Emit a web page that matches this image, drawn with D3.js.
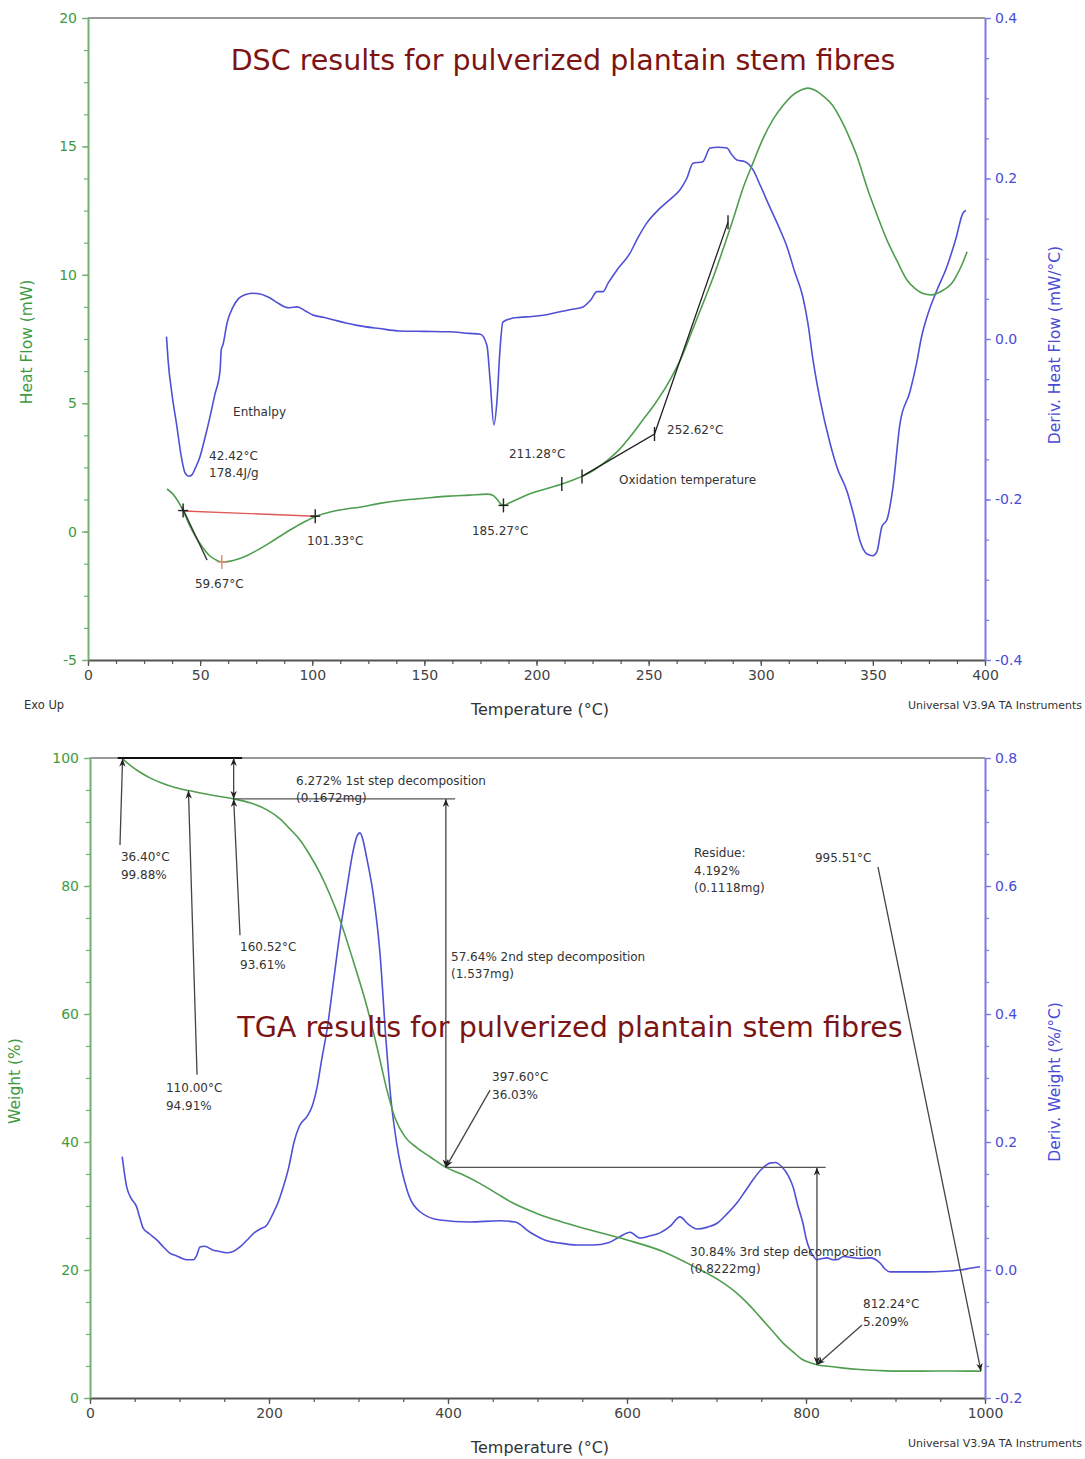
<!DOCTYPE html>
<html>
<head>
<meta charset="utf-8">
<script src="https://cdn.jsdelivr.net/npm/d3@7"></script>
<style>
body{margin:0;background:#fff}
text{font-family:"DejaVu Sans",sans-serif}
</style>
</head>
<body>
<svg id="fig" width="1085" height="1459"></svg>
<script>
// ---- DSC data: [temperature °C, value]
const dscHeatFlow=[[35.2,1.66],[38,1.45],[40,1.2],[42.42,0.82],[45,0.3],[48,-0.2],[51,-0.6],[54,-0.92],[57,-1.1],[59.67,-1.18],[63,-1.16],[67,-1.07],[71,-0.93],[76,-0.7],[81,-0.44],[86,-0.16],[92,0.16],[97,0.4],[101.33,0.58],[108,0.76],[115,0.88],[121,0.95],[130,1.1],[140,1.22],[150,1.3],[161,1.38],[170,1.42],[178,1.46],[180.5,1.42],[182.5,1.25],[184,1.08],[185.27,1.02],[188,1.12],[193,1.32],[198,1.5],[204,1.66],[211.28,1.85],[216,2.0],[220.3,2.15],[226,2.42],[232,2.8],[237,3.2],[242,3.72],[247,4.3],[253,5.0],[259.5,5.9],[265,6.85],[270,7.95],[275,9.05],[279,9.95],[284,11.2],[288,12.25],[292,13.35],[296.5,14.35],[301,15.3],[305.5,16.05],[310,16.6],[314,16.98],[318,17.2],[321,17.27],[324,17.2],[328,16.95],[332,16.6],[336,16.0],[339,15.45],[343,14.6],[347.4,13.4],[352,12.3],[356.3,11.35],[361,10.5],[365.2,9.8],[369,9.45],[372.4,9.27],[376,9.22],[381.3,9.4],[385,9.65],[387.5,10.0],[390,10.45],[392,10.9]];

const dscDeriv=[[35.0,0.003],[35.7,-0.026],[37.5,-0.07],[39.7,-0.11],[41.5,-0.145],[43.3,-0.167],[45,-0.171],[46.4,-0.169],[48,-0.16],[49.9,-0.147],[52,-0.125],[54.4,-0.097],[56.5,-0.07],[58.9,-0.039],[59.4,-0.014],[60.3,-0.006],[62,0.02],[64.7,0.04],[67,0.05],[70,0.055],[73,0.057],[76.7,0.056],[79,0.054],[81.2,0.051],[84,0.046],[87.8,0.04],[90,0.039],[93.2,0.04],[97,0.035],[100.3,0.03],[105,0.027],[109.3,0.024],[115,0.02],[120,0.017],[130,0.013],[139,0.01],[150,0.0095],[161,0.009],[170,0.007],[175,0.006],[177.9,-0.008],[179.3,-0.051],[181,-0.107],[182.4,-0.076],[183.7,-0.014],[185,0.021],[188,0.025],[192.6,0.027],[198,0.028],[203.8,0.03],[210.5,0.034],[216,0.037],[220.7,0.04],[224,0.048],[227,0.059],[229.7,0.059],[232,0.07],[235.9,0.086],[241.7,0.107],[245,0.125],[249.3,0.145],[255.1,0.163],[260,0.175],[264,0.186],[267,0.2],[269.8,0.219],[274.2,0.221],[277.4,0.238],[281,0.239],[284.9,0.238],[287,0.23],[289.4,0.223],[293,0.221],[296.5,0.211],[300,0.19],[304.1,0.164],[308,0.14],[311.7,0.115],[315,0.085],[318.8,0.052],[321,0.02],[323.3,-0.026],[326.4,-0.075],[330.9,-0.13],[334,-0.16],[338.5,-0.19],[341.5,-0.22],[344.3,-0.252],[347.4,-0.268],[350,-0.27],[351.8,-0.265],[354,-0.234],[356.3,-0.225],[359,-0.184],[362.1,-0.105],[366.5,-0.066],[369.5,-0.03],[371.5,0.0],[375,0.035],[378.6,0.061],[383,0.09],[387,0.125],[390.2,0.157],[391.5,0.16]];

// ---- TGA data
const tgaWeight=[[36.4,99.88],[45,98.85],[55,97.85],[67,96.9],[80,96.1],[95,95.4],[110,94.91],[125,94.5],[140,94.1],[160.52,93.61],[178.8,93.0],[197.8,91.9],[212.3,90.5],[223.5,88.9],[234.6,87.2],[245.8,84.8],[257,82.0],[268.2,78.6],[279.3,74.7],[293.9,68.4],[309.5,61.1],[320.7,54.8],[331.8,48.1],[340.8,43.75],[352,40.8],[365.4,39.1],[379.9,37.7],[397.6,36.03],[415,35],[436,33.5],[455,31.9],[472,30.5],[500,28.8],[525,27.6],[560,26.2],[600,24.7],[640,22.9],[674,20.6],[704,18.3],[720,16.7],[734,14.9],[749,12.6],[763,10.4],[775,8.5],[785.5,7.2],[795,6.1],[805,5.5],[812.24,5.209],[825,4.95],[840,4.7],[860,4.45],[880,4.3],[900,4.2],[930,4.2],[960,4.22],[980,4.2],[995.5,4.192]];

const tgaDeriv=[[36,0.177],[41,0.13],[46,0.112],[52,0.099],[56,0.08],[59.6,0.065],[66,0.057],[74.6,0.047],[82,0.036],[89.4,0.026],[97,0.022],[103,0.018],[108,0.016],[115.5,0.016],[119,0.022],[122.9,0.036],[128,0.037],[137.7,0.031],[145,0.029],[152.6,0.027],[160,0.029],[167.6,0.036],[175,0.046],[182.5,0.057],[190,0.064],[197.4,0.07],[204.8,0.089],[210,0.105],[216,0.13],[222,0.16],[228,0.2],[234,0.225],[242.5,0.24],[248,0.255],[253.6,0.285],[259,0.33],[264.8,0.375],[271.5,0.445],[279.3,0.527],[287.2,0.598],[294,0.655],[299,0.68],[301.7,0.683],[305,0.672],[309,0.645],[316.2,0.59],[324,0.495],[330.7,0.359],[336.3,0.266],[343,0.195],[354.2,0.125],[368.7,0.091],[391,0.078],[424,0.075],[458,0.077],[475,0.075],[491.6,0.059],[508,0.047],[525,0.042],[545,0.039],[562,0.039],[580,0.043],[592,0.052],[603.4,0.059],[614.5,0.05],[625,0.053],[636.9,0.058],[648,0.068],[659.2,0.083],[668,0.072],[678.2,0.064],[690,0.067],[700.6,0.073],[712,0.088],[722.9,0.105],[732,0.123],[740.8,0.141],[750,0.157],[759.8,0.167],[766,0.168],[773.2,0.161],[780,0.148],[785.5,0.13],[791,0.1],[796.6,0.073],[800,0.05],[804.5,0.031],[808,0.022],[812.3,0.016],[818,0.018],[823.5,0.019],[830,0.016],[834.6,0.016],[842,0.021],[849.2,0.02],[860,0.018],[871.5,0.019],[882.7,0.011],[888,0.002],[893.9,-0.003],[910,-0.003],[935,-0.003],[955,-0.002],[972,0.0],[985,0.003],[994.4,0.005]];

// ---- tick labels
const dscXTicks=[0,50,100,150,200,250,300,350,400];
const dscLeftTicks=[-5,0,5,10,15,20];
const dscRightTicks=[-0.4,-0.2,0.0,0.2,0.4];
const tgaXTicks=[0,200,400,600,800,1000];
const tgaLeftTicks=[0,20,40,60,80,100];
const tgaRightTicks=[-0.2,0.0,0.2,0.4,0.6,0.8];

// ---- DSC annotations
const dscBaseline=[[42.42,0.8],[101.33,0.6]];
const dscOnsetTangent=[[41.9,0.96],[53.1,-1.11]];
const dscOxidation=[[220.3,2.15],[252.62,3.8],[285.4,12.05]];
const dscMarkers=[
  {t:42.42,v:0.82,kind:"plus"},{t:101.33,v:0.6,kind:"plus"},{t:59.67,v:-1.18,kind:"peak"},
  {t:185.27,v:1.02,kind:"plus"},{t:211.28,v:1.85,kind:"tick"},{t:220.3,v:2.15,kind:"tick"},
  {t:252.62,v:3.8,kind:"tick"},{t:285.4,v:12.05,kind:"tick"}];
const dscLabels=[
  {t:64.7,v:4.5,lines:["Enthalpy"]},
  {t:54,v:2.79,lines:["42.42°C","178.4J/g"]},
  {t:47.7,v:-2.2,lines:["59.67°C"]},
  {t:97.7,v:-0.52,lines:["101.33°C"]},
  {t:171.2,v:-0.13,lines:["185.27°C"]},
  {t:187.7,v:2.87,lines:["211.28°C"]},
  {t:258.2,v:3.8,lines:["252.62°C"]},
  {t:236.8,v:1.85,lines:["Oxidation temperature"]}];

// ---- TGA annotations
const tgaLevels=[{v:100,t0:31,t1:170},{v:93.61,t0:160.52,t1:408},{v:36.03,t0:397.6,t1:822}];
const tgaSteps=[{t:160.52,v0:100,v1:93.61},{t:397.6,v0:93.61,v1:36.03},{t:812.24,v0:36.03,v1:5.209}];
const tgaPointers=[
  {from:[33.5,86.4],to:[36.4,99.88]},{from:[119.6,50.5],to:[110,94.91]},
  {from:[167.6,72.3],to:[160.52,93.61]},{from:[447,48.1],to:[397.6,36.03]},
  {from:[862.6,11.4],to:[812.24,5.209]},{from:[880.4,83],to:[995.51,4.192]}];
const tgaLabels=[
  {t:34.6,v:83.9,lines:["36.40°C","99.88%"]},
  {t:84.9,v:47.8,lines:["110.00°C","94.91%"]},
  {t:167.6,v:69.8,lines:["160.52°C","93.61%"]},
  {t:230.2,v:95.8,lines:["6.272% 1st step decomposition","(0.1672mg)"]},
  {t:403.4,v:68.3,lines:["57.64% 2nd step decomposition","(1.537mg)"]},
  {t:449.2,v:49.5,lines:["397.60°C","36.03%"]},
  {t:674.9,v:84.5,lines:["Residue:","4.192%","(0.1118mg)"]},
  {t:810,v:83.75,lines:["995.51°C"]},
  {t:670.4,v:22.2,lines:["30.84% 3rd step decomposition","(0.8222mg)"]},
  {t:863.7,v:14.06,lines:["812.24°C","5.209%"]}];

const green="#4f9e4f", blue="#5050d6", axisGreen="#74b074", axisBlue="#7a7ae6";
const labelGreen="#3f9a3f", labelBlue="#4a4ad8", ink="#333";

const svg=d3.select("#fig");
svg.append("rect").attr("width",1085).attr("height",1459).attr("fill","#fff");

const defs=svg.append("defs");
defs.append("marker").attr("id","arrow")
  .attr("viewBox","0 0 10 10").attr("refX",10).attr("refY",5)
  .attr("markerWidth",11).attr("markerHeight",8)
  .attr("markerUnits","userSpaceOnUse").attr("orient","auto-start-reverse")
  .append("path").attr("d","M0,1 L10,5 L0,9 L3,5 Z").attr("fill","#222");

function step(a,b,s){ // tick values a..b every s
  const n=Math.round((b-a)/s);
  return d3.range(n+1).map(i=>+(a+i*s).toFixed(4));
}
// plain hyphen for negatives, as in the instrument printout
const fmt=f=>d=>d3.format(f)(d).replace("\u2212","-");

function panel(p){
  const x=d3.scaleLinear().domain(p.xDomain).range([p.left,p.right]);
  const yL=d3.scaleLinear().domain(p.yLeft).range([p.bottom,p.top]);
  const yR=d3.scaleLinear().domain(p.yRight).range([p.bottom,p.top]);
  const g=svg.append("g");

  g.append("line").attr("x1",p.left).attr("x2",p.right)
    .attr("y1",p.top).attr("y2",p.top)
    .attr("stroke","#9a9a9a").attr("stroke-width",2);

  function styleAxis(sel,color,textColor,size){
    sel.select(".domain").attr("stroke",color).attr("stroke-width",2);
    sel.selectAll(".tick line").attr("stroke",color).attr("stroke-width",1.3);
    sel.selectAll(".tick text").attr("fill",textColor).attr("font-size",size)
      .attr("font-family","DejaVu Sans, sans-serif");
  }

  // minor ticks first
  g.append("g").attr("transform",`translate(0,${p.bottom})`)
    .call(d3.axisBottom(x).tickValues(step(p.xDomain[0],p.xDomain[1],p.xMinor)).tickSize(4).tickFormat(""))
    .call(s=>{s.select(".domain").remove();s.selectAll("line").attr("stroke","#555").attr("stroke-width",1.2);});
  g.append("g").attr("transform",`translate(${p.left},0)`)
    .call(d3.axisLeft(yL).tickValues(step(p.yLeft[0],p.yLeft[1],p.leftMinor)).tickSize(4).tickFormat(""))
    .call(s=>{s.select(".domain").remove();s.selectAll("line").attr("stroke",axisGreen).attr("stroke-width",1.2);});
  g.append("g").attr("transform",`translate(${p.right},0)`)
    .call(d3.axisRight(yR).tickValues(step(p.yRight[0],p.yRight[1],p.rightMinor)).tickSize(4).tickFormat(""))
    .call(s=>{s.select(".domain").remove();s.selectAll("line").attr("stroke",axisBlue).attr("stroke-width",1.2);});

  g.append("g").attr("transform",`translate(0,${p.bottom})`)
    .call(d3.axisBottom(x).tickValues(p.xTicks).tickSize(6).tickSizeOuter(0).tickPadding(4).tickFormat(fmt("d")))
    .call(s=>styleAxis(s,"#555","#444",14));
  g.append("g").attr("transform",`translate(${p.left},0)`)
    .call(d3.axisLeft(yL).tickValues(p.leftTicks).tickSize(6).tickSizeOuter(0).tickPadding(5).tickFormat(fmt("d")))
    .call(s=>styleAxis(s,axisGreen,labelGreen,14));
  g.append("g").attr("transform",`translate(${p.right},0)`)
    .call(d3.axisRight(yR).tickValues(p.rightTicks).tickSize(6).tickSizeOuter(0).tickPadding(4).tickFormat(fmt(".1f")))
    .call(s=>styleAxis(s,axisBlue,labelBlue,14));

  // curves
  g.append("path").datum(p.deriv)
    .attr("d",d3.line().x(d=>x(d[0])).y(d=>yR(d[1])).curve(d3.curveMonotoneX))
    .attr("fill","none").attr("stroke",blue).attr("stroke-width",1.6);
  g.append("path").datum(p.main)
    .attr("d",d3.line().x(d=>x(d[0])).y(d=>yL(d[1])).curve(d3.curveMonotoneX))
    .attr("fill","none").attr("stroke",green).attr("stroke-width",1.6);

  // axis titles
  g.append("text").attr("transform",`translate(${p.leftTitleX},${(p.top+p.bottom)/2+p.leftTitleDy}) rotate(-90)`)
    .attr("text-anchor","middle").attr("dominant-baseline","central")
    .attr("fill",labelGreen).attr("font-size",15.5).text(p.leftTitle);
  g.append("text").attr("transform",`translate(1055,${(p.top+p.bottom)/2+p.rightTitleDy}) rotate(-90)`)
    .attr("text-anchor","middle").attr("dominant-baseline","central")
    .attr("fill",labelBlue).attr("font-size",15.5).text(p.rightTitle);
  g.append("text").attr("x",540).attr("y",p.bottom+p.xTitleDy).attr("text-anchor","middle")
    .attr("fill","#333").attr("font-size",16).text("Temperature (°C)");
  g.append("text").attr("x",1082).attr("y",p.bottom+p.creditDy).attr("text-anchor","end")
    .attr("fill","#333").attr("font-size",11).text("Universal V3.9A TA Instruments");

  // title, fitted to the width it spans in the figure
  const t=g.append("text").attr("x",p.titleX).attr("y",p.titleY).attr("text-anchor","middle")
    .attr("fill","#7d1414").attr("font-family","Lato, sans-serif").attr("font-size",30).text(p.title);
  const w=t.node().getComputedTextLength();
  t.attr("font-size",30*p.titleWidth/w);

  return {g,x,yL,yR};
}

function labels(g,x,y,list){
  list.forEach(l=>{
    const t=g.append("text").attr("x",x(l.t)).attr("y",y(l.v))
      .attr("fill",ink).attr("font-size",12);
    l.lines.forEach((s,i)=>t.append("tspan").attr("x",x(l.t)).attr("dy",i?17.5:0).text(s));
  });
}

// ---------------- DSC panel
const dsc=panel({
  left:88,right:985,top:18,bottom:660,
  xDomain:[0,400],yLeft:[-5,20],yRight:[-0.4,0.4],
  xTicks:dscXTicks,leftTicks:dscLeftTicks,rightTicks:dscRightTicks,
  xMinor:12.5,leftMinor:1.25,rightMinor:0.05,
  main:dscHeatFlow,deriv:dscDeriv,
  leftTitle:"Heat Flow (mW)",rightTitle:"Deriv. Heat Flow (mW/°C)",
  leftTitleX:27,leftTitleDy:3,rightTitleDy:6,xTitleDy:55,creditDy:49,
  title:"DSC results for pulverized plantain stem fibres",titleX:563,titleY:70,titleWidth:665
});
dsc.g.append("text").attr("x",24).attr("y",709).attr("fill","#333").attr("font-size",11.5).text("Exo Up");

{
  const {g,x,yL}=dsc;
  const ln=d3.line().x(d=>x(d[0])).y(d=>yL(d[1]));
  g.append("path").attr("d",ln(dscBaseline)).attr("stroke","#e05a5a").attr("stroke-width",1.4).attr("fill","none");
  g.append("path").attr("d",ln(dscOnsetTangent)).attr("stroke","#333").attr("stroke-width",1.3).attr("fill","none");
  g.append("path").attr("d",ln(dscOxidation)).attr("stroke","#222").attr("stroke-width",1.3).attr("fill","none");
  dscMarkers.forEach(m=>{
    const cx=x(m.t), cy=yL(m.v);
    const c=m.kind==="peak"?"#e08a70":"#222";
    g.append("line").attr("x1",cx).attr("x2",cx).attr("y1",cy-7).attr("y2",cy+7).attr("stroke",c).attr("stroke-width",1.4);
    if(m.kind!=="tick")
      g.append("line").attr("x1",cx-5).attr("x2",cx+5).attr("y1",cy).attr("y2",cy).attr("stroke",c).attr("stroke-width",1.4);
  });
  labels(g,x,yL,dscLabels);
}

// ---------------- TGA panel
const tga=panel({
  left:90,right:985,top:758,bottom:1398,
  xDomain:[0,1000],yLeft:[0,100],yRight:[-0.2,0.8],
  xTicks:tgaXTicks,leftTicks:tgaLeftTicks,rightTicks:tgaRightTicks,
  xMinor:50,leftMinor:5,rightMinor:0.05,
  main:tgaWeight,deriv:tgaDeriv,
  leftTitle:"Weight (%)",rightTitle:"Deriv. Weight (%/°C)",
  leftTitleX:15,leftTitleDy:3,rightTitleDy:4,xTitleDy:55,creditDy:49,
  title:"TGA results for pulverized plantain stem fibres",titleX:570,titleY:1037,titleWidth:666
});

{
  const {g,x,yL}=tga;
  tgaLevels.forEach(l=>{
    g.append("line").attr("x1",x(l.t0)).attr("x2",x(l.t1)).attr("y1",yL(l.v)).attr("y2",yL(l.v))
      .attr("stroke",l.v===100?"#111":"#555").attr("stroke-width",l.v===100?1.8:1.3);
  });
  tgaSteps.forEach(s=>{
    g.append("line").attr("x1",x(s.t)).attr("x2",x(s.t)).attr("y1",yL(s.v0)).attr("y2",yL(s.v1))
      .attr("stroke","#444").attr("stroke-width",1.3)
      .attr("marker-start","url(#arrow)").attr("marker-end","url(#arrow)");
  });
  tgaPointers.forEach(p=>{
    g.append("line").attr("x1",x(p.from[0])).attr("y1",yL(p.from[1]))
      .attr("x2",x(p.to[0])).attr("y2",yL(p.to[1]))
      .attr("stroke","#444").attr("stroke-width",1.3).attr("marker-end","url(#arrow)");
  });
  labels(g,x,yL,tgaLabels);
}
</script>
</body>
</html>
